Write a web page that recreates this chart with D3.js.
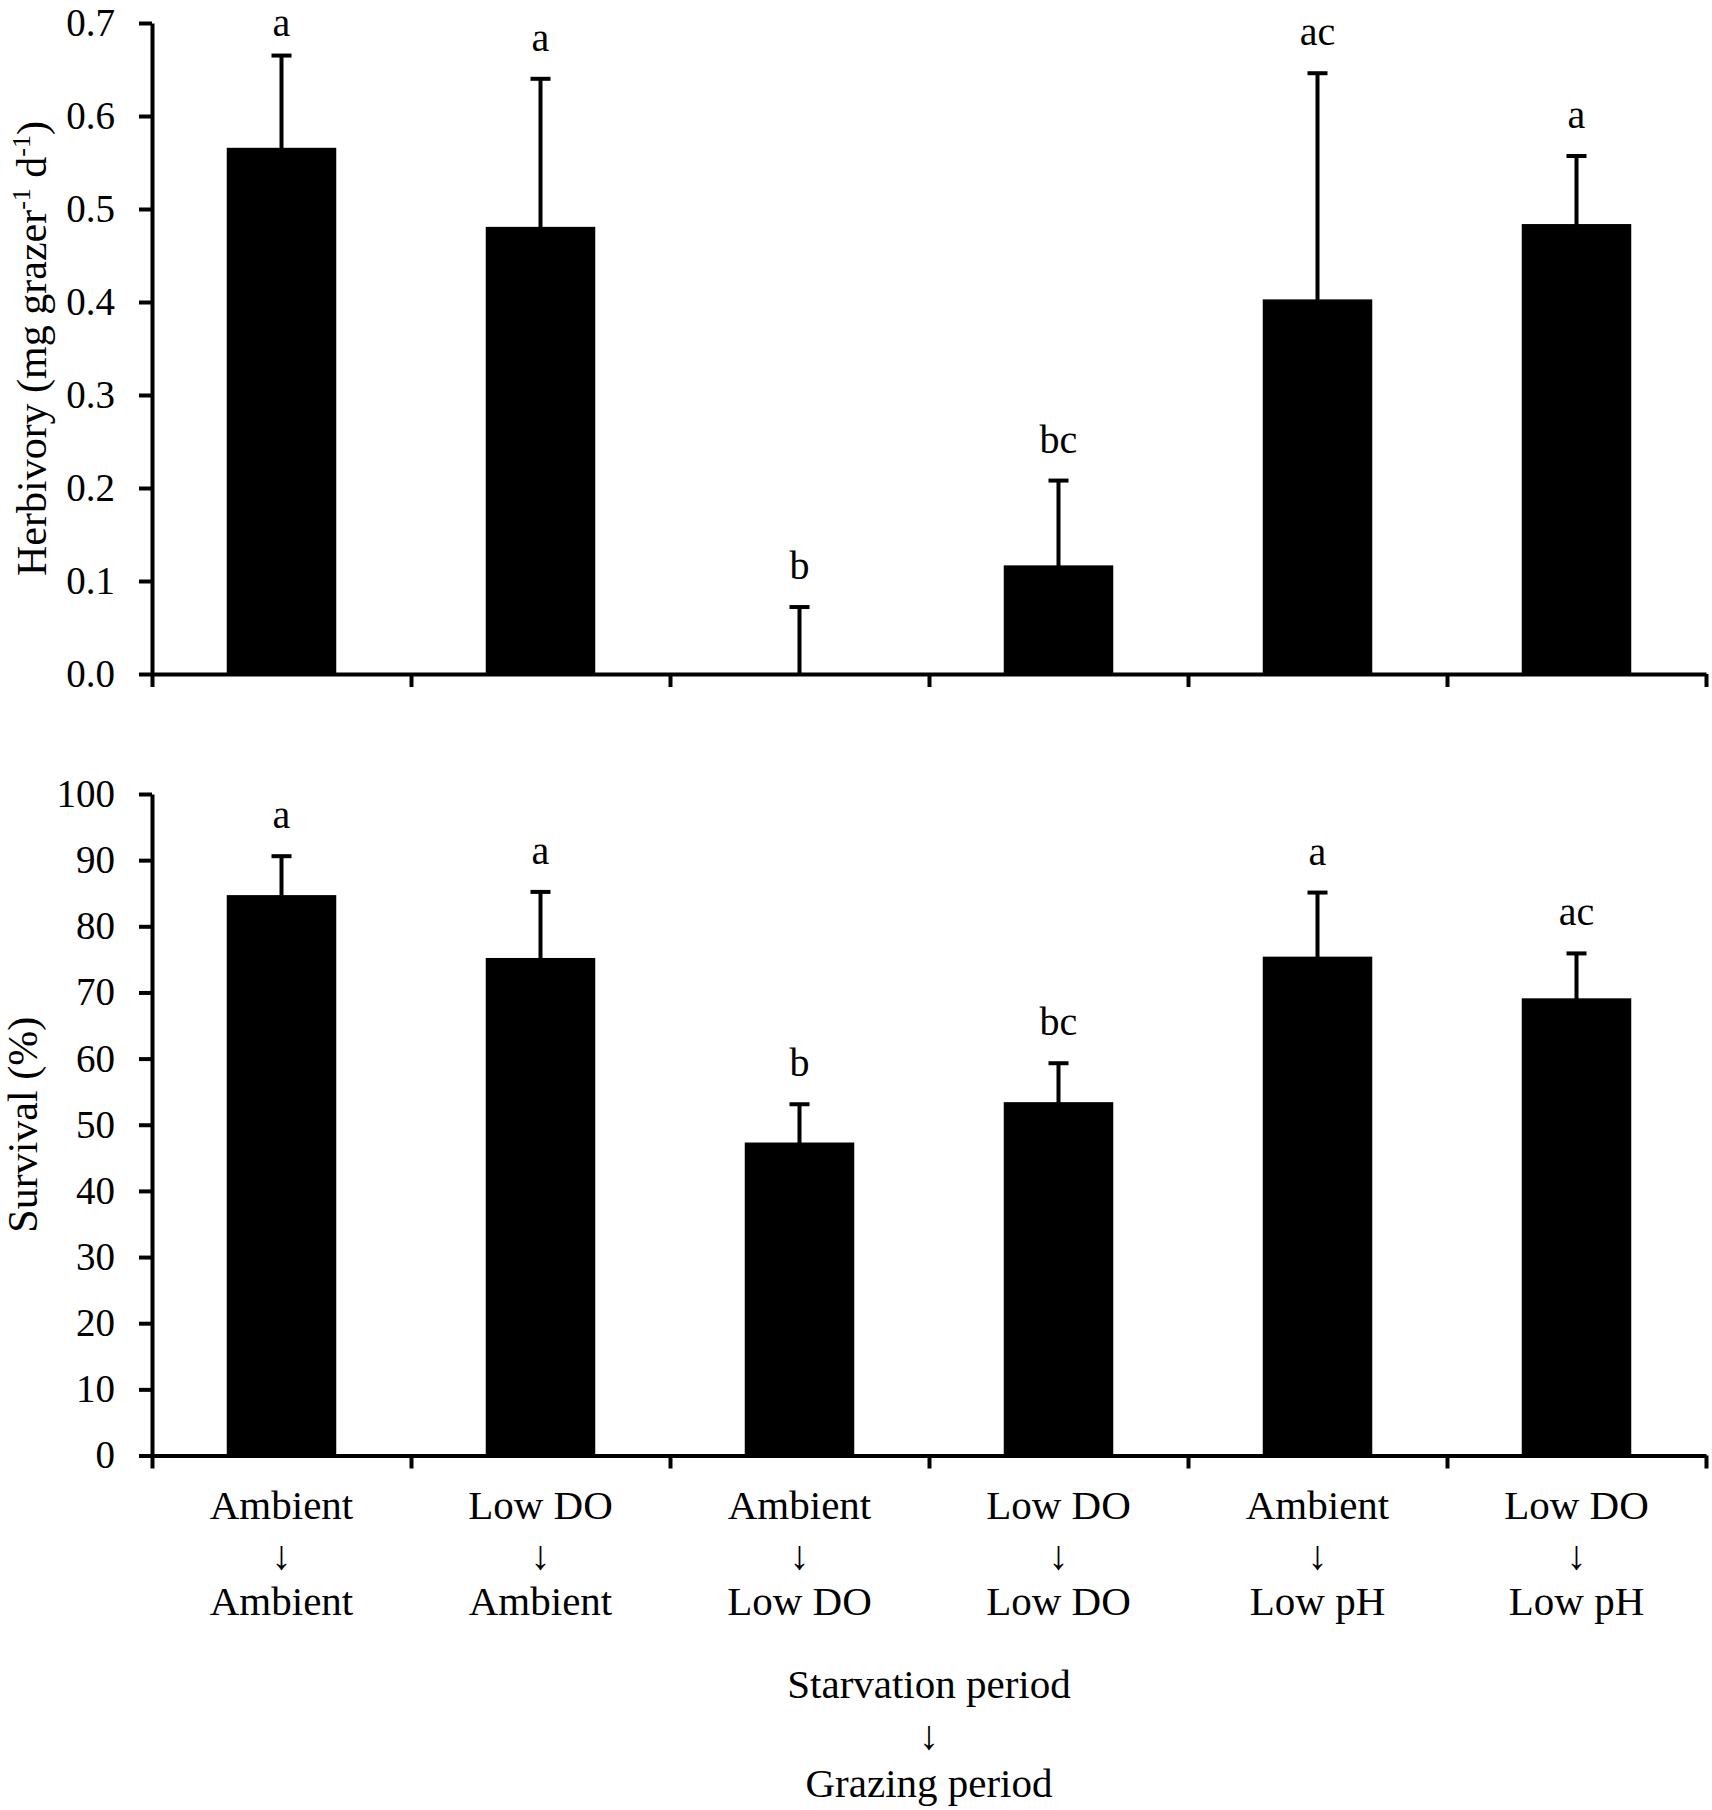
<!DOCTYPE html>
<html>
<head>
<meta charset="utf-8">
<script src="https://cdn.jsdelivr.net/npm/d3@7"></script>
<style>
  html, body { margin: 0; padding: 0; background: #fff; }
  svg text { font-family: "Times New Roman", "Liberation Serif", serif; fill: #000; }
</style>
</head>
<body>
<svg id="chart" width="1712" height="1810"></svg>
<script>
// ---- data ----
const categories = ["Ambient>Ambient", "LowDO>Ambient", "Ambient>LowDO", "LowDO>LowDO", "Ambient>LowpH", "LowDO>LowpH"];
const starvation = ["Ambient", "Low DO", "Ambient", "Low DO", "Ambient", "Low DO"];
const grazing = ["Ambient", "Ambient", "Low DO", "Low DO", "Low pH", "Low pH"];

const herbivoryMean = [0.565, 0.480, 0.000, 0.116, 0.402, 0.483];
const herbivorySE   = [0.100, 0.160, 0.072, 0.092, 0.244, 0.074];
const herbivoryLetters = ["a", "a", "b", "bc", "ac", "a"];
const herbivoryTicks = [0, 0.1, 0.2, 0.3, 0.4, 0.5, 0.6, 0.7];

const survivalMean = [84.6, 75.1, 47.2, 53.3, 75.3, 69.0];
const survivalSE   = [6.0, 10.1, 5.9, 6.0, 9.8, 6.9];
const survivalLetters = ["a", "a", "b", "bc", "a", "ac"];
const survivalTicks = [0, 10, 20, 30, 40, 50, 60, 70, 80, 90, 100];

const xTitleLines = ["Starvation period", "\u2193", "Grazing period"];

// ---- layout ----
const svg = d3.select("#chart");
const X0 = 152, X1 = 1706;
const SW = 4;
const FONT = "'Times New Roman','Liberation Serif',serif";

const x = d3.scaleBand().domain(categories).range([X0, X1]).paddingInner(0.583).paddingOuter(0.2915);
const idx = d3.scaleLinear().domain([0, categories.length]).range([X0, X1]);

function panel(cfg) {
  const y = d3.scaleLinear().domain(cfg.domain).range([cfg.yBottom, cfg.yTop]);
  const g = svg.append("g");

  // bars
  g.selectAll("rect.bar").data(cfg.mean).join("rect")
    .attr("class", "bar")
    .attr("x", (d, i) => x(categories[i]))
    .attr("width", x.bandwidth())
    .attr("y", d => y(Math.max(0, d)))
    .attr("height", d => Math.abs(y(0) - y(d)))
    .attr("fill", "#000")
    .attr("stroke", "#000").attr("stroke-width", 1.5);

  // error bars
  const cx = i => x(categories[i]) + x.bandwidth() / 2;
  g.selectAll("line.err").data(cfg.mean).join("line")
    .attr("x1", (d, i) => cx(i)).attr("x2", (d, i) => cx(i))
    .attr("y1", d => y(d)).attr("y2", (d, i) => y(d + cfg.se[i]))
    .attr("stroke", "#000").attr("stroke-width", SW);
  g.selectAll("line.cap").data(cfg.mean).join("line")
    .attr("x1", (d, i) => cx(i) - 10).attr("x2", (d, i) => cx(i) + 10)
    .attr("y1", (d, i) => y(d + cfg.se[i])).attr("y2", (d, i) => y(d + cfg.se[i]))
    .attr("stroke", "#000").attr("stroke-width", SW);

  // letters
  g.selectAll("text.letter").data(cfg.letters).join("text")
    .attr("x", (d, i) => cx(i))
    .attr("y", (d, i) => Math.max(36, y(cfg.mean[i] + cfg.se[i]) - 28))
    .attr("text-anchor", "middle")
    .attr("font-size", 40)
    .text(d => d);

  // y axis
  const ya = g.append("g").attr("transform", `translate(${X0},0)`)
    .call(d3.axisLeft(y).tickValues(cfg.ticks).tickFormat(cfg.fmt).tickSize(13).tickSizeOuter(0).tickPadding(24));
  ya.select(".domain").attr("stroke", "#000").attr("stroke-width", SW);
  ya.selectAll(".tick line").attr("stroke", "#000").attr("stroke-width", SW);
  ya.selectAll(".tick text").attr("font-size", 39).attr("font-family", FONT).attr("fill", "#000");

  // x axis
  const xa = g.append("g").attr("transform", `translate(0,${cfg.yBottom})`)
    .call(d3.axisBottom(idx).tickValues(d3.range(categories.length + 1)).tickFormat("").tickSize(13).tickSizeOuter(0));
  xa.select(".domain").attr("stroke", "#000").attr("stroke-width", SW);
  xa.selectAll(".tick line").attr("stroke", "#000").attr("stroke-width", SW);

  // y title
  const t = g.append("text")
    .attr("transform", `translate(${cfg.titleX},${(cfg.yTop + cfg.yBottom) / 2}) rotate(-90)`)
    .attr("text-anchor", "middle")
    .attr("font-size", 42);
  cfg.title(t);
  return y;
}

panel({
  domain: [0, 0.7], yTop: 23, yBottom: 674,
  mean: herbivoryMean, se: herbivorySE, letters: herbivoryLetters,
  ticks: herbivoryTicks, fmt: d3.format(".1f"), titleX: 46,
  title: t => {
    t.append("tspan").text("Herbivory (mg grazer");
    t.append("tspan").attr("font-size", 26).attr("dy", -16).text("-1");
    t.append("tspan").attr("dy", 16).text(" d");
    t.append("tspan").attr("font-size", 26).attr("dy", -16).text("-1");
    t.append("tspan").attr("dy", 16).text(")");
  }
});

panel({
  domain: [0, 100], yTop: 794, yBottom: 1455.5,
  mean: survivalMean, se: survivalSE, letters: survivalLetters,
  ticks: survivalTicks, fmt: d3.format("d"), titleX: 37,
  title: t => t.text("Survival (%)")
});

// x category labels
const xl = svg.append("g");
const lineY = [1519, 1569, 1615];
categories.forEach((c, i) => {
  const cx = x(c) + x.bandwidth() / 2;
  const tx = xl.append("text").attr("text-anchor", "middle").attr("font-size", 41);
  [starvation[i], "\u2193", grazing[i]].forEach((s, k) => {
    tx.append("tspan").attr("x", cx).attr("y", lineY[k]).text(s);
  });
});

// x title
const xt = svg.append("text").attr("text-anchor", "middle").attr("font-size", 41);
const titleY = [1698, 1749, 1797];
xTitleLines.forEach((s, k) => {
  xt.append("tspan").attr("x", (X0 + X1) / 2).attr("y", titleY[k]).text(s);
});
</script>
</body>
</html>
